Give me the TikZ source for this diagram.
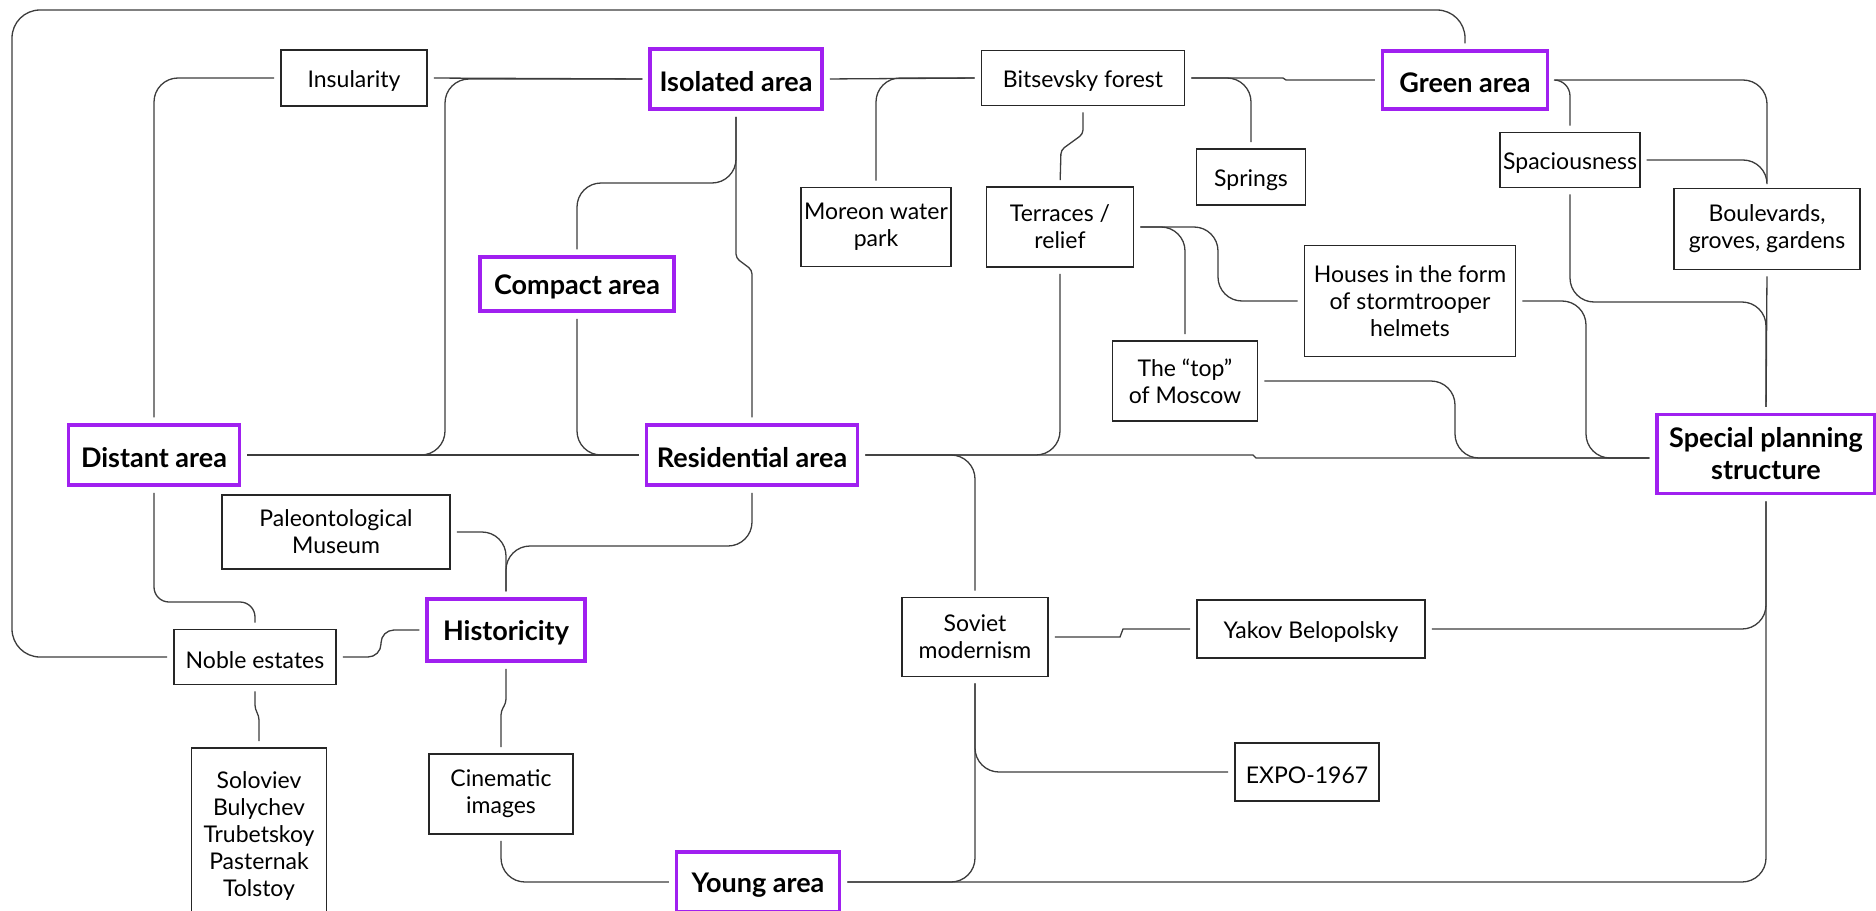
\documentclass[tikz,border=0pt]{standalone}
\usepackage{fontspec}
\setmainfont{Lato}
\usepackage{tikz}
\usetikzlibrary{calc}
\definecolor{areapurple}{RGB}{160,32,240}
\definecolor{linkgray}{RGB}{60,60,60}

\begin{document}
\begin{tikzpicture}[
        x=1pt, y=-1pt,
        box size/.style 2 args={minimum width=#1pt, minimum height=#2pt},
        idea box/.style={draw=black!85, line width=1.6pt, fill=white, align=center, inner sep=3pt,
            font=\fontsize{23}{27}\selectfont, execute at begin node={\rule{0pt}{23pt}}},
        area box/.style={draw=areapurple, line width=3.5pt, fill=white, align=center, inner sep=3pt,
            font=\fontsize{27}{32}\selectfont\bfseries, execute at begin node={\rule{0pt}{26pt}}},
        link/.style={draw=linkgray, line width=1.3pt, rounded corners=24pt, shorten >=6pt, shorten <=6pt},
        jog/.style={rounded corners=4pt}
    ]
    \useasboundingbox (0,0) rectangle (1876,910);

    % main areas
    \node[area box, box size={172}{60}] (iso) at (736,79) {Isolated area};
    \node[area box, box size={194}{54}] (cmp) at (577,284) {Compact area};
    \node[area box, box size={171}{60}] (dist) at (154,455) {Distant area};
    \node[area box, box size={211}{60}] (res) at (752,455) {Residential area};
    \node[area box, box size={165}{58}] (grn) at (1465,80) {Green area};
    \node[area box, box size={218}{79}] (spec) at (1766,454) {Special planning\\structure};
    \node[area box, box size={158}{62}] (his) at (506,630) {Historicity};
    \node[area box, box size={163}{60}] (yng) at (758,882) {Young area};

    % features
    \node[idea box, box size={146}{56}] (ins) at (354,78) {Insularity};
    \node[idea box, box size={147}{79}] (mor) at (876,227) {Moreon water\\park};
    \node[idea box, box size={203}{55}] (bit) at (1083,78) {Bitsevsky forest};
    \node[idea box, box size={109}{56}] (spr) at (1251,177) {Springs};
    \node[idea box, box size={137}{55}] (spa) at (1570,160) {Spaciousness};
    \node[idea box, box size={186}{81}] (blv) at (1767,229) {Boulevards,\\groves, gardens};
    \node[idea box, box size={147}{80}] (ter) at (1060,227) {Terraces /\\relief};
    \node[idea box, box size={211}{111}] (hou) at (1410,301) {Houses in the form\\of stormtrooper\\helmets};
    \node[idea box, box size={145}{80}] (top) at (1185,381) {The “top”\\of Moscow};
    \node[idea box, box size={228}{74}] (pal) at (336,532) {Paleontological\\Museum};
    \node[idea box, box size={162}{55}] (nob) at (255,657) {Noble estates};
    \node[idea box, box size={135}{176}] (sol) at (259,836) {Soloviev\\Bulychev\\Trubetskoy\\Pasternak\\Tolstoy};
    \node[idea box, box size={144}{80}] (cin) at (501,794) {Cinematic\\images};
    \node[idea box, box size={146}{79}] (sov) at (975,637) {Soviet\\modernism};
    \node[idea box, box size={228}{58}] (yak) at (1311,629) {Yakov Belopolsky};
    \node[idea box, box size={144}{58}] (exp) at (1307,772) {EXPO-1967};

    \foreach \p/\q in {ins.east/iso.west,dist.east/res.west,iso.east/bit.west,blv.south/spec.north} {
        \draw[link] (\p) -- (\q);
    }
    \foreach \p/\q in {dist.north/ins.west,cmp.south/res.west,mor.north/bit.west,spr.north/bit.east,
        ter.south/res.east,sov.south/exp.west,sov.south/yng.east,cin.south/yng.west} {
        \draw[link] (\p) |- (\q);
    }
    \foreach \p/\q in {grn.east/blv.north,spa.east/blv.north,ter.east/top.north,res.east/sov.north,
        yng.east/spec.south,yak.east/spec.south,pal.east/his.north} {
        \draw[link] (\p) -| (\q);
    }
    \draw[link, rounded corners=16pt] (grn.east) -| (spa.north);
    \draw[link] (dist.east) -- (445,455) |- (iso.west);
    \draw[link] (iso.south) -- (736,183) -| (cmp.north);
    \draw[link] (spa.south) -- (1570,302) -| (spec.north);
    \draw[link] (ter.east) -- (1218,227) |- (hou.west);
    \draw[link] (hou.east) -- (1586,301) |- ([yshift=-4pt]spec.west);
    \draw[link] (top.east) -- (1455,381) |- ([yshift=-4pt]spec.west);
    \draw[link] (res.south) -- (752,546) -| (his.north);
    \draw[link, rounded corners=13pt] (his.west) -- (381,630) -- (381,657) -- (nob.east);
    \draw[link, rounded corners=15pt] (dist.south) -- (154,602) -| (nob.north);
    \draw[link, rounded corners=28pt] (nob.west) -| (12,10) -| (grn.north);

    % small jumps where lines cross
    \draw[link, jog] (iso.south) -- (736,258) -- (752,270) -- (res.north);
    \draw[link, jog] (bit.south) -- (1083,134) -- (1061,150) -- (ter.north);
    \draw[link, jog] (nob.south) -- (255,709) -- (259,716) -- (sol.north);
    \draw[link, jog] (his.south) -- (506,703) -- (501,711) -- (cin.north);
    \draw[link, sharp corners] (bit.east) -- (1283,78) -- (1286,80) -- (grn.west);
    \draw[link, sharp corners] (res.east) -- (1253,455) -- (1256,458) -- ([yshift=-4pt]spec.west);
    \draw[link, sharp corners] (sov.east) -- (1120,637) -- (1123,629) -- (yak.west);

\end{tikzpicture}
\end{document}
